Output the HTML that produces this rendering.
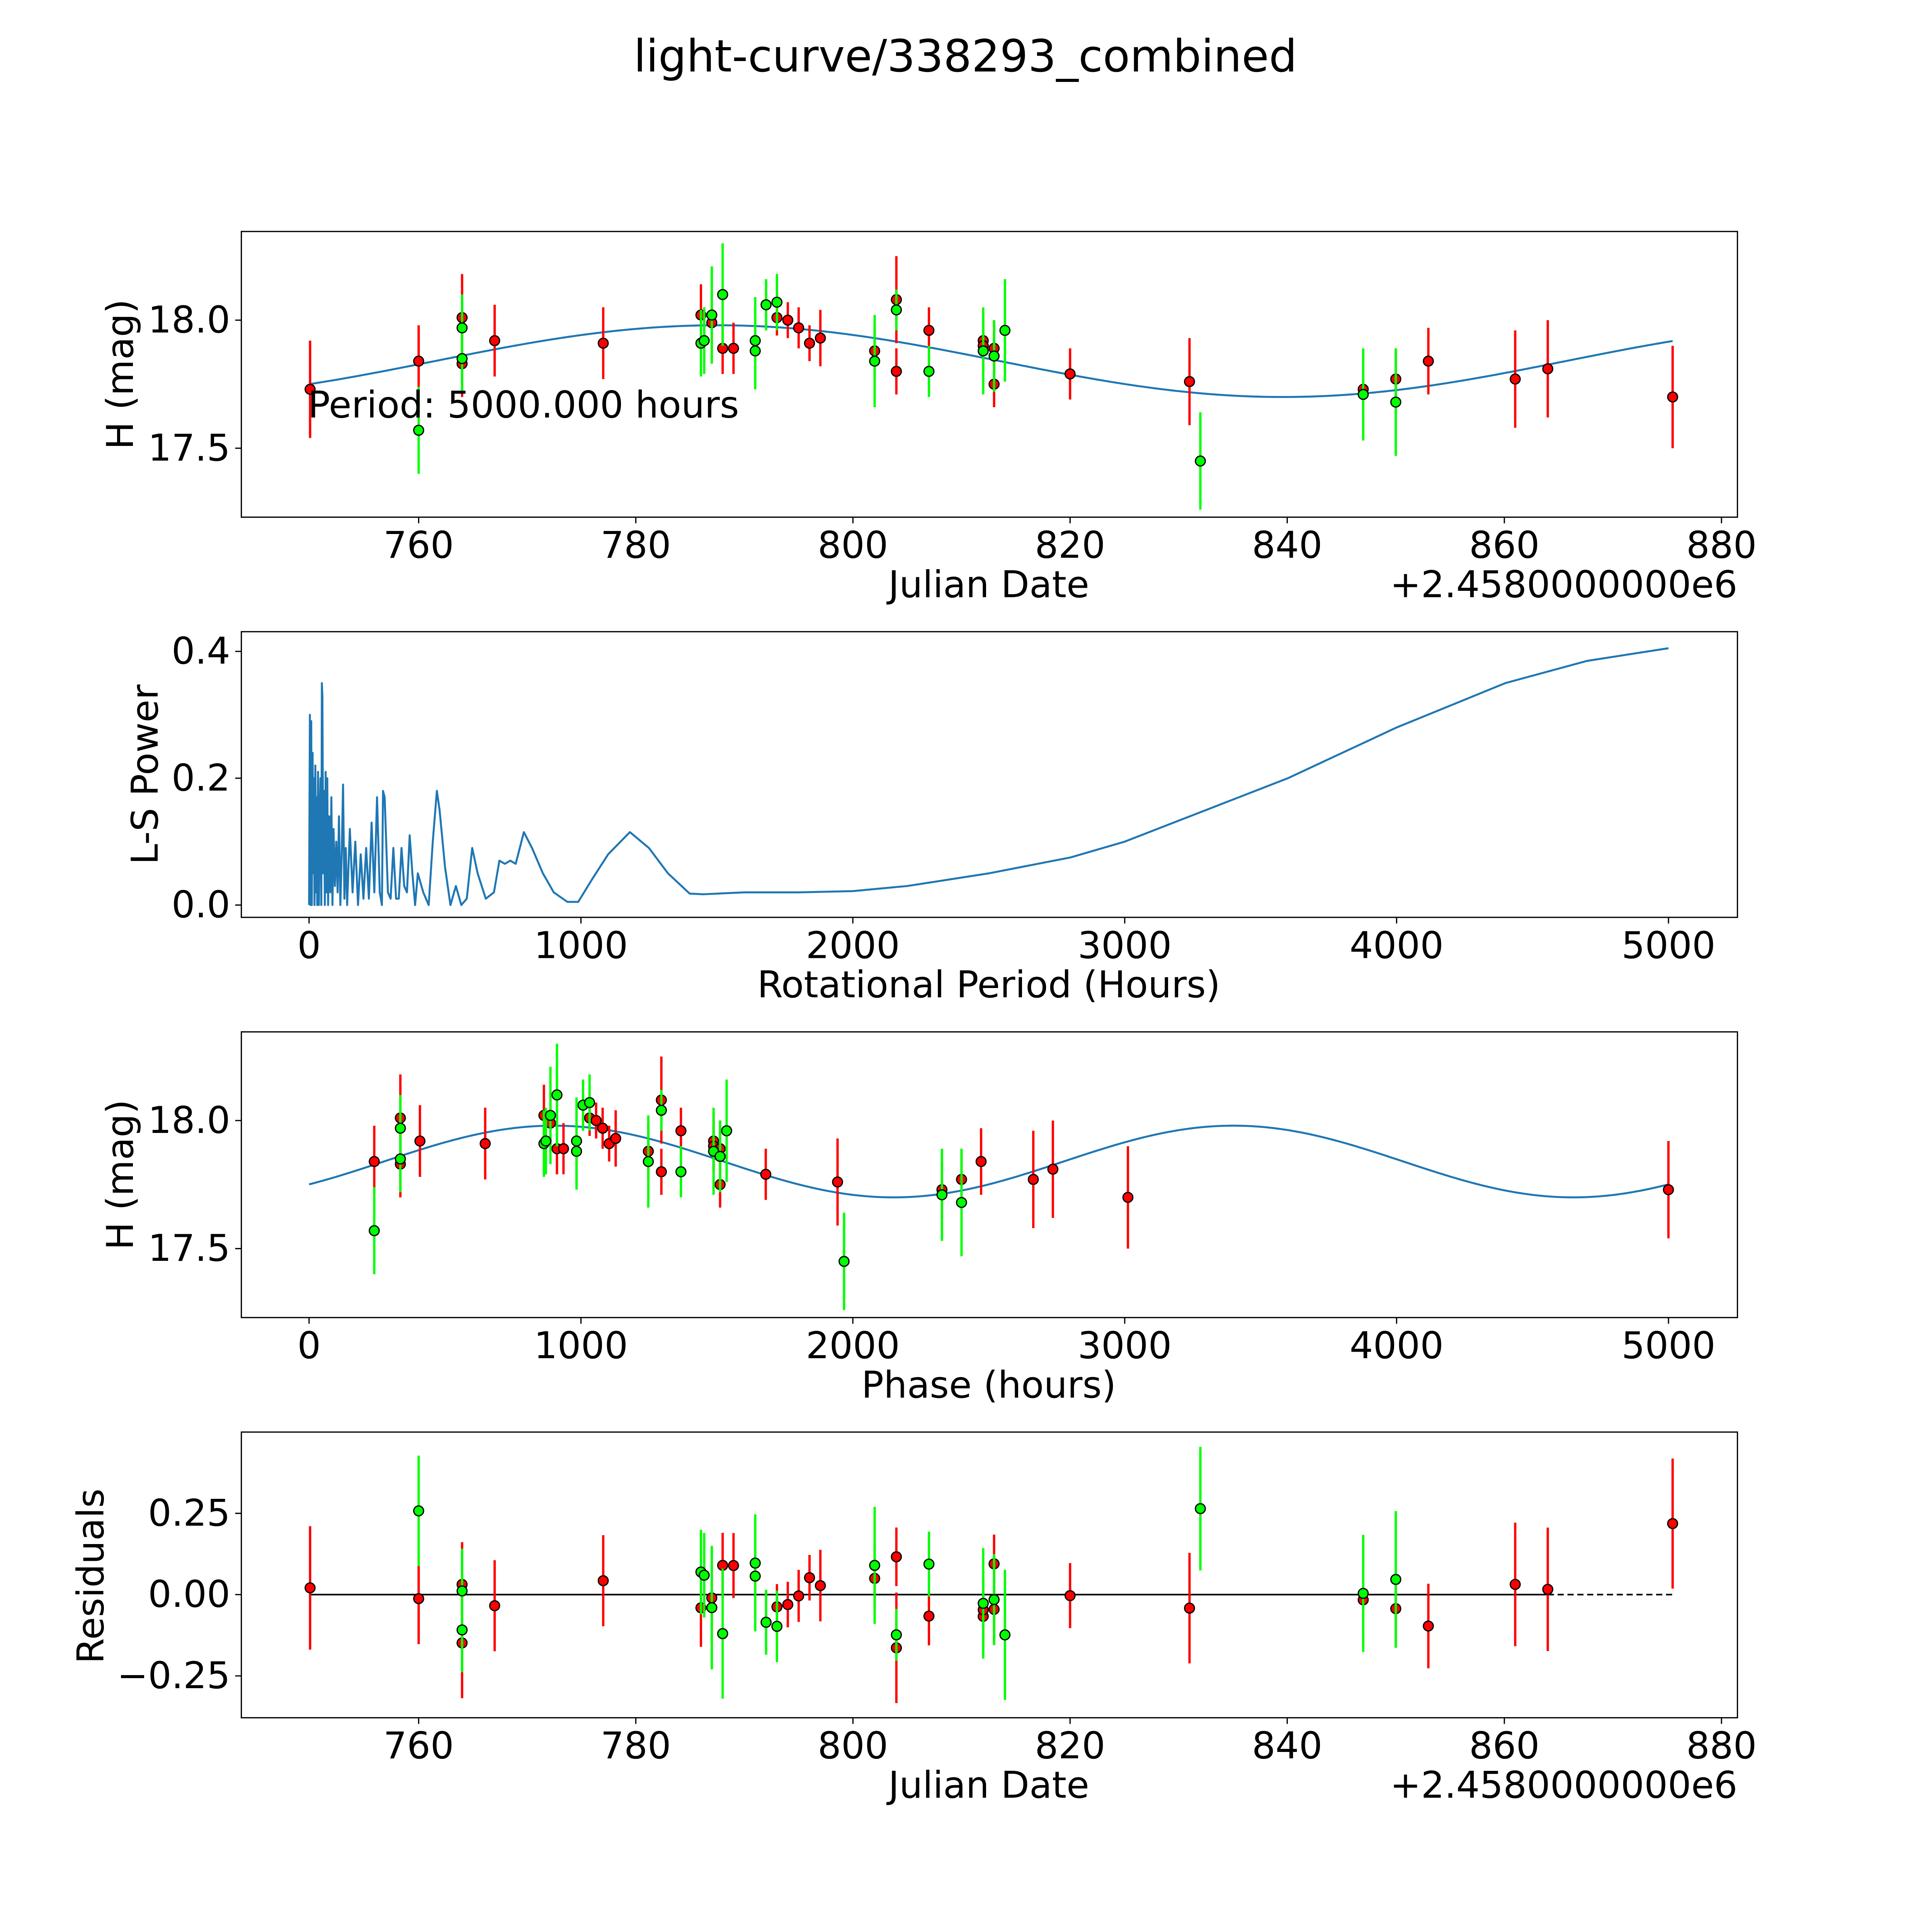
<!DOCTYPE html>
<html><head><meta charset="utf-8"><style>html,body{margin:0;padding:0;background:#fff;overflow:hidden;width:100%;height:100%}svg{display:block;width:100vw;height:100vh}</style></head>
<body>
<svg id="fig" xmlns="http://www.w3.org/2000/svg" viewBox="0 0 1569 1569" preserveAspectRatio="xMidYMid meet" font-family="DejaVu Sans, Liberation Sans, sans-serif">
<rect width="1569" height="1569" fill="#fff"/>
<text x="784" y="58" font-size="36" text-anchor="middle">light-curve/338293_combined</text>
</svg>
<script>
// ---- data ----
const redDates=[750,760,764,764,767,777,786,787,788,789,793,794,795,796,797,802,804,804,807,812,812,813,813,820,831,847,850,853,861,864,875.5];
const redMags=[17.73,17.84,18.01,17.83,17.92,17.91,18.02,17.99,17.89,17.89,18.01,18.0,17.97,17.91,17.93,17.88,18.08,17.8,17.96,17.92,17.9,17.89,17.75,17.79,17.76,17.73,17.77,17.84,17.77,17.81,17.7];
const redErrs=[0.19,0.14,0.17,0.13,0.14,0.14,0.12,0.1,0.1,0.1,0.07,0.07,0.08,0.07,0.11,0.11,0.17,0.09,0.09,0.11,0.1,0.11,0.09,0.1,0.17,0.11,0.12,0.13,0.19,0.19,0.2];
const greenDates=[760,764,764,786,786.3,787,788,791,791,792,793,802,804,807,812,813,814,832,847,850];
const greenMags=[17.57,17.97,17.85,17.91,17.92,18.02,18.1,17.92,17.88,18.06,18.07,17.84,18.04,17.8,17.88,17.86,17.96,17.45,17.71,17.68];
const greenErrs=[0.17,0.13,0.13,0.13,0.13,0.19,0.2,0.17,0.15,0.1,0.11,0.18,0.08,0.1,0.17,0.14,0.2,0.19,0.18,0.21];
const lsPeriods=[0,3,5,8,10,13,15,18,20,23,25,28,30,33,36,39,42,45,47,49,52,55,58,61,64,67,70,74,78,82,86,90,95,100,105,110,115,120,125,130,135,140,150,160,170,180,190,200,210,220,230,240,250,260,268,272,278,290,300,310,320,330,340,350,360,370,380,390,400,420,440,455,470,480,500,520,540,560,580,600,620,650,680,700,720,740,760,790,820,860,900,950,990,1040,1100,1180,1250,1320,1400,1450,1600,1800,2000,2200,2500,2800,3000,3300,3600,4000,4400,4700,5000];
const lsPowers=[0,0.3,0,0.29,0,0.24,0.05,0.2,0,0.22,0.02,0.17,0,0.21,0,0.13,0.2,0,0.35,0.33,0.05,0.18,0,0.21,0.02,0.2,0,0.14,0.02,0.17,0,0.12,0.03,0.1,0.02,0.14,0,0.08,0.19,0.01,0.09,0,0.12,0.02,0.1,0,0.08,0.01,0.09,0.01,0.13,0.02,0.17,0.02,0.0,0.18,0.17,0.02,0.01,0.09,0.01,0.01,0.09,0.03,0.02,0.11,0.05,0.0,0.05,0.02,0.0,0.1,0.18,0.15,0.06,0.0,0.03,0.0,0.01,0.09,0.05,0.01,0.02,0.07,0.065,0.07,0.065,0.115,0.09,0.05,0.02,0.005,0.005,0.04,0.08,0.115,0.09,0.05,0.018,0.017,0.02,0.02,0.022,0.03,0.05,0.075,0.1,0.15,0.2,0.28,0.35,0.385,0.405];
const modelMean=17.84, modelAmp=0.14, modelPeakPhase=900, modelSubPeriod=2500, period=5000, t0=750.01;
const tickJD=[760,780,800,820,840,860,880];
const tickMag=[17.5,18.0];
const tickPeriod=[0,1000,2000,3000,4000,5000];
const tickPow=[0.0,0.2,0.4];
const tickRes=[-0.25,0.0,0.25];

// ---- helpers ----
const NS="http://www.w3.org/2000/svg";
const svg=document.getElementById('fig');
function mk(tag,attrs,parent){const e=document.createElementNS(NS,tag);for(const k in attrs)e.setAttribute(k,attrs[k]);(parent||svg).appendChild(e);return e;}
function model(ph){return modelMean+modelAmp*Math.cos(2*Math.PI*(ph-modelPeakPhase)/modelSubPeriod);}
function phaseOf(d){return (((d-t0)*24)%period+period)%period;}
const L=196,R=1411;
const panels=[{top:188,bot:420},{top:513,bot:745},{top:838,bot:1070},{top:1163,bot:1395}];
const xJD=d=>340+(d-760)*8.817;
const xP=p=>251+p*0.2208;
const yMag=(m,top)=>top+72-(m-18)*208;
const yPow=v=>735-v*515;
const yRes=v=>1295-v*264;
const FS=30;
function frame(i,name){const p=panels[i];const r=mk('rect',{x:L,y:p.top,width:R-L,height:p.bot-p.top,fill:'none',stroke:'#000','stroke-width':1});}
function xticks(i,ticks,fx,fmt){const p=panels[i];ticks.forEach(t=>{const x=fx(t);const l=mk('line',{x1:x,x2:x,y1:p.bot,y2:p.bot+5,stroke:'#000'});const tx=mk('text',{x:x,y:p.bot+33,'font-size':FS,'text-anchor':'middle'});tx.textContent=fmt(t);});}
function yticks(ticks,fy,fmt){ticks.forEach(t=>{const y=fy(t);const l=mk('line',{x1:L-5,x2:L,y1:y,y2:y,stroke:'#000'});const tx=mk('text',{x:L-9,y:y+10,'font-size':FS,'text-anchor':'end'});tx.textContent=fmt(t);});}
function label(txt,x,y,rot,name,anchor){const t=mk('text',{x:x,y:y,'font-size':FS,'text-anchor':anchor||'middle'});if(rot)t.setAttribute('transform',`rotate(-90 ${x} ${y})`);t.textContent=txt;}
function points(xs,ys,errsTop,errsBot,col,name){xs.forEach((x,k)=>{const e=mk('line',{x1:x,x2:x,y1:errsTop[k],y2:errsBot[k],stroke:col,'stroke-width':1.9});});
 xs.forEach((x,k)=>{const c=mk('circle',{cx:x,cy:ys[k],r:4,fill:col,stroke:'#000','stroke-width':1});});}
const fmtMag=t=>t.toFixed(1), fmtRes=t=>(t<0?'\u2212':'')+Math.abs(t).toFixed(2);
const groups=[[redDates,redMags,redErrs,'#ff0000','red'],[greenDates,greenMags,greenErrs,'#00ff00','green']];

// ---- panel 1 ----
frame(0,'lightcurve-axes');
{let d='';for(let k=0;k<=300;k++){const jd=750+k*125.5/300;d+=(k?'L':'M')+xJD(jd).toFixed(2)+' '+yMag(model(phaseOf(jd)),188).toFixed(2);}
const p=mk('path',{d:d,fill:'none',stroke:'#1f77b4','stroke-width':1.6});}
groups.forEach(g=>points(g[0].map(xJD),g[1].map(m=>yMag(m,188)),g[1].map((m,k)=>yMag(m+g[2][k],188)),g[1].map((m,k)=>yMag(m-g[2][k],188)),g[3],g[4]));
xticks(0,tickJD,xJD,t=>String(t));yticks(tickMag,m=>yMag(m,188),fmtMag);
label('Julian Date',803,485,false,'x-axis-title');label('+2.4580000000e6',1411,485,false,'x-offset-text','end');
label('H (mag)',108,304,true,'y-axis-title');
label('Period: 5000.000 hours',250,339,false,'period-annotation','start');

// ---- panel 2 ----
frame(1,'periodogram-axes');
{let d='';lsPeriods.forEach((p,k)=>{d+=(k?'L':'M')+xP(p).toFixed(2)+' '+yPow(lsPowers[k]).toFixed(2);});
const p=mk('path',{d:d,fill:'none',stroke:'#1f77b4','stroke-width':1.6,'stroke-linejoin':'round'});}
xticks(1,tickPeriod,xP,t=>String(t));yticks(tickPow,yPow,t=>t.toFixed(1));
label('Rotational Period (Hours)',803,810,false,'x-axis-title');label('L-S Power',128,629,true,'y-axis-title');

// ---- panel 3 ----
frame(2,'phase-axes');
{let d='';for(let k=0;k<=300;k++){const ph=k*period/300;d+=(k?'L':'M')+xP(ph).toFixed(2)+' '+yMag(model(ph),838).toFixed(2);}
const p=mk('path',{d:d,fill:'none',stroke:'#1f77b4','stroke-width':1.6});}
groups.forEach(g=>points(g[0].map(d=>xP(phaseOf(d))),g[1].map(m=>yMag(m,838)),g[1].map((m,k)=>yMag(m+g[2][k],838)),g[1].map((m,k)=>yMag(m-g[2][k],838)),g[3],g[4]+'-phase'));
xticks(2,tickPeriod,xP,t=>String(t));yticks(tickMag,m=>yMag(m,838),fmtMag);
label('Phase (hours)',803,1135,false,'x-axis-title');label('H (mag)',108,954,true,'y-axis-title');

// ---- panel 4 ----
frame(3,'residuals-axes');
{const l=mk('line',{x1:xJD(750),x2:xJD(864),y1:yRes(0),y2:yRes(0),stroke:'#000','stroke-width':1.3});
const l2=mk('line',{x1:xJD(864),x2:xJD(875.5),y1:yRes(0),y2:yRes(0),stroke:'#000','stroke-width':1.3,'stroke-dasharray':'5,3'});}
groups.forEach(g=>{const res=g[1].map((m,k)=>model(phaseOf(g[0][k]))-m);points(g[0].map(xJD),res.map(yRes),res.map((r,k)=>yRes(r+g[2][k])),res.map((r,k)=>yRes(r-g[2][k])),g[3],g[4]+'-residual');});
xticks(3,tickJD,xJD,t=>String(t));yticks(tickRes,yRes,fmtRes);
label('Julian Date',803,1460,false,'x-axis-title');label('+2.4580000000e6',1411,1460,false,'x-offset-text','end');
label('Residuals',84,1280,true,'y-axis-title');
</script>
</body></html>
